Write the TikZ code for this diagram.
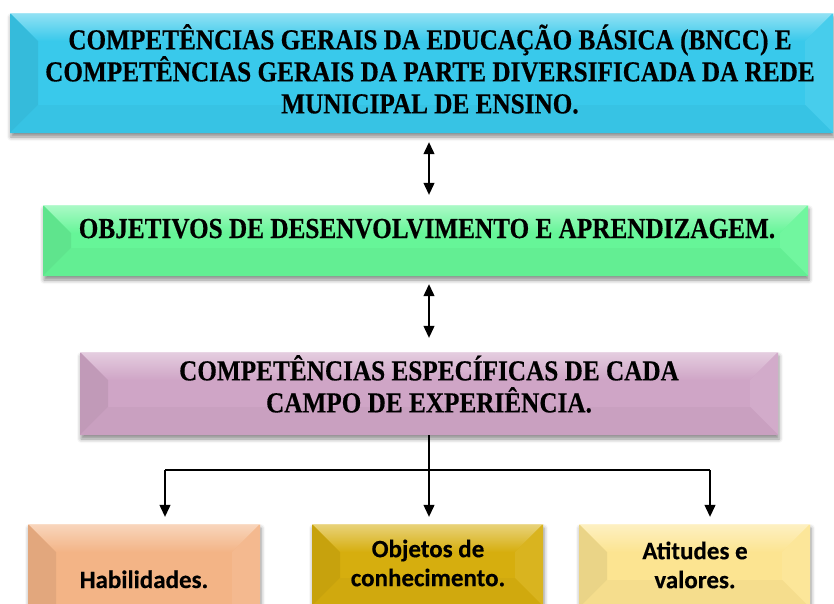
\documentclass[tikz,border=0pt]{standalone}
\usepackage{fontspec}
\newfontfamily\serifb[FakeStretch=0.87,FakeBold=0.4]{Liberation Serif}
\newfontfamily\sansb[FakeBold=0.3]{Carlito}
\usetikzlibrary{arrows.meta,shadows.blur}
\definecolor{cyanb}{RGB}{57,201,235}
\definecolor{greenb}{RGB}{102,245,152}
\definecolor{pinkb}{RGB}{207,165,198}
\definecolor{orangeb}{RGB}{243,180,134}
\definecolor{goldb}{RGB}{214,174,14}
\definecolor{yellowb}{RGB}{252,228,145}
\begin{document}
\begin{tikzpicture}[x=1pt,y=-1pt,
  bev/.style={fill=#1, draw=none, inner sep=0pt,
    blur shadow={shadow xshift=1pt, shadow yshift=-4pt, shadow blur radius=4pt, shadow opacity=45},
    path picture={
      \coordinate (o1) at (path picture bounding box.north west);
      \coordinate (o2) at (path picture bounding box.north east);
      \coordinate (o3) at (path picture bounding box.south east);
      \coordinate (o4) at (path picture bounding box.south west);
      \coordinate (i1) at ([shift={(28pt,-28pt)}]o1);
      \coordinate (i2) at ([shift={(-28pt,-28pt)}]o2);
      \coordinate (i3) at ([shift={(-28pt,28pt)}]o3);
      \coordinate (i4) at ([shift={(28pt,28pt)}]o4);
      \shade[top color=#1!55!white, bottom color=#1] (o1)--(o2)--(i2)--(i1)--cycle;
      \fill[#1!93!black] (o1)--(i1)--(i4)--(o4)--cycle;
      \fill[#1!93!white] (o2)--(o3)--(i3)--(i2)--cycle;
      \fill[#1!97!black] (o4)--(i4)--(i3)--(o3)--cycle;
      \draw[#1!45!white, line width=1pt] (o1)--(o2);
    }},
  ttl/.style={font=\serifb\bfseries\fontsize{29}{32}\selectfont, align=center, inner sep=0pt},
  sml/.style={font=\sansb\bfseries\fontsize{25}{29}\selectfont, align=center, inner sep=0pt},
  con/.style={line width=1.2pt, black},
  arr/.style={con, -{Triangle[width=11pt,length=12pt]}},
  darr/.style={con, {Triangle[width=11pt,length=12pt]}-{Triangle[width=11pt,length=12pt]}}]
\useasboundingbox (0,0) rectangle (834,603);
\clip (0,0) rectangle (834,603);

% boxes
\node[bev=cyanb, minimum width=823pt, minimum height=120pt] (top) at (421.5,73) {};
\node[bev=greenb, minimum width=765pt, minimum height=71pt] (green) at (425.5,240.5) {};
\node[bev=pinkb, minimum width=698pt, minimum height=83pt] (pink) at (429,393.5) {};
\node[bev=orangeb, minimum width=232pt, minimum height=112pt] (hab) at (144,580) {};
\node[bev=goldb, minimum width=231pt, minimum height=82pt] (obj) at (427.5,565) {};
\node[bev=yellowb, minimum width=231pt, minimum height=84pt] (ati) at (694.5,566) {};

% texts
\node[ttl] (topt) at (430,69) {COMPETÊNCIAS GERAIS DA EDUCAÇÃO BÁSICA (BNCC) E\\COMPETÊNCIAS GERAIS DA PARTE DIVERSIFICADA DA REDE\\MUNICIPAL DE ENSINO.};
\node[ttl, anchor=base] (greent) at (427,238) {OBJETIVOS DE DESENVOLVIMENTO E APRENDIZAGEM.};
\node[ttl] (pinkt) at (429,384) {COMPETÊNCIAS ESPECÍFICAS DE CADA\\CAMPO DE EXPERIÊNCIA.};
\node[sml, anchor=base] (habt) at (144,588) {Habilidades.};
\node[sml] (objt) at (428,563) {Objetos de\\conhecimento.};
\node[sml] (atit) at (695,565) {Atitudes e\\valores.};

% connectors
\draw[darr, shorten <=9pt, shorten >=10pt] (pink.north |- top.south) -- (pink.north |- green.north);
\draw[darr, shorten <=8pt, shorten >=14pt] (pink.north |- green.south) -- (pink.north);
\coordinate (j) at (429,470);
\coordinate (a1) at (165,470);
\coordinate (a3) at (710,470);
\draw[con] (pink.south) -- (j);
\draw[con] (a1) -- (a3);
\draw[arr, shorten >=7pt] (a1) -- (a1 |- hab.north);
\draw[arr, shorten >=7pt] (j) -- (j |- obj.north);
\draw[arr, shorten >=7pt] (a3) -- (a3 |- ati.north);
\end{tikzpicture}
\end{document}
